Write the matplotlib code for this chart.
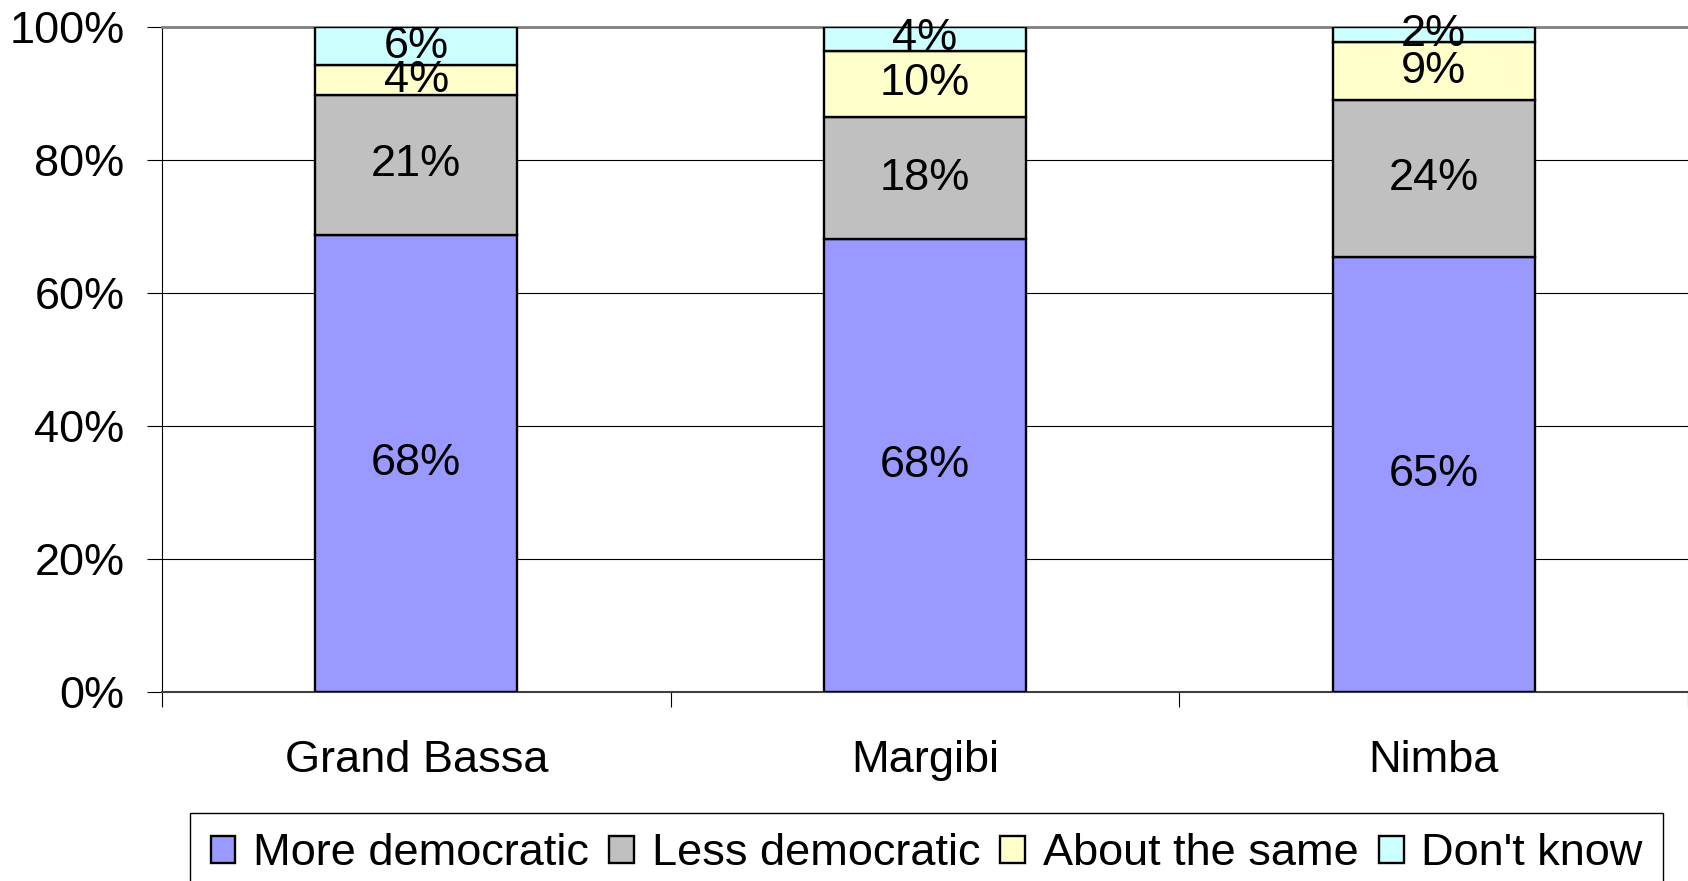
import matplotlib
matplotlib.use("Agg")
import matplotlib.pyplot as plt
import numpy as np
from matplotlib.ticker import FixedLocator, FuncFormatter

plt.rcParams['font.family'] = ['Liberation Sans', 'DejaVu Sans']
plt.rcParams['font.size'] = 32.5

categories = ["Grand Bassa", "Margibi", "Nimba"]
series_names = ["More democratic", "Less democratic", "About the same", "Don't know"]
more_democratic = [68.4, 68.1, 65.4]
less_democratic = [21.0, 18.4, 23.6]
about_same = [4.4, 10.0, 8.8]
dont_know = [5.8, 3.6, 2.3]
colors = ["#9999FF", "#C0C0C0", "#FFFFCC", "#CCFFFF"]
y_ticks = [0, 20, 40, 60, 80, 100]

W, H = 1688, 881
fig = plt.figure(figsize=(W / 100, H / 100), dpi=100)
ax = fig.add_axes([162 / W, (H - 691.7) / H, (W - 162) / W, (691.7 - 26.7) / H])

series = [np.array(more_democratic), np.array(less_democratic),
          np.array(about_same), np.array(dont_know)]
totals = sum(series)
x = np.arange(len(categories))
bottom = np.zeros(len(categories))
handles = []
for vals, col, name in zip(series, colors, series_names):
    pct = vals / totals * 100
    bars = ax.bar(x, pct, width=0.397, bottom=bottom, color=col,
                  edgecolor='black', linewidth=1.7, zorder=3, label=name)
    handles.append(bars)
    for xi, b, h, v in zip(x, bottom, pct, vals):
        ax.text(xi, b + h / 2, f"{v:.0f}%", ha='center', va='center',
                fontsize=32.5, zorder=4)
    bottom = bottom + pct

ax.set_xlim(-0.5, len(categories) - 0.5)
ax.set_ylim(0, 100)
ax.set_yticks(y_ticks)
ax.yaxis.set_major_formatter(FuncFormatter(lambda v, p: f"{v:.0f}%"))
ax.yaxis.grid(True, color='black', linewidth=0.8, zorder=0)
ax.set_axisbelow(True)

ax.set_xticks(x)
ax.set_xticklabels(categories)
ax.xaxis.set_minor_locator(FixedLocator(np.arange(-0.5, len(categories), 1.0)))
ax.tick_params(axis='x', which='major', length=0, pad=35)
ax.tick_params(axis='x', which='minor', length=11, width=0.8, direction='out')
ax.tick_params(axis='y', length=11, width=0.8, direction='out', pad=16)

ax.spines['right'].set_visible(False)
ax.spines['top'].set_color('#808080')
ax.spines['top'].set_linewidth(2)
ax.spines['left'].set_color('black')
ax.spines['left'].set_linewidth(0.8)
ax.spines['bottom'].set_color('#404040')
ax.spines['bottom'].set_linewidth(1.5)

leg = fig.legend(handles=handles, labels=series_names, ncol=4,
                 loc='upper center', bbox_to_anchor=(0.549, 0.0772),
                 borderaxespad=0,
                 frameon=True, fancybox=False, framealpha=1, edgecolor='black',
                 handlelength=0.55, handleheight=0.55, handletextpad=0.39,
                 columnspacing=0.45, borderpad=0.45, fontsize=32.5)
leg.get_frame().set_linewidth(1.0)

fig.savefig("out.png", dpi=100)
